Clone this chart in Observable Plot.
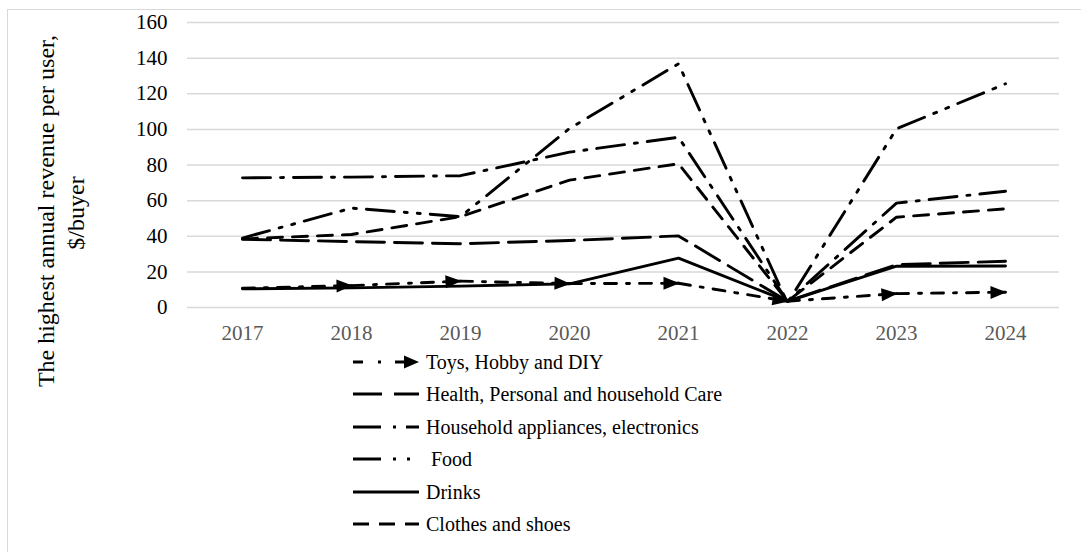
<!DOCTYPE html>
<html><head><meta charset="utf-8">
<script src="https://cdn.jsdelivr.net/npm/d3@7"></script>
<script src="https://cdn.jsdelivr.net/npm/@observablehq/plot@0.6"></script>
<style>
html,body{margin:0;padding:0;background:#fff;}
#wrap{position:relative;width:1081px;height:552px;overflow:hidden;font-family:"Liberation Serif","Times New Roman",serif;}
#frame{position:absolute;left:7px;top:9px;width:1100px;height:600px;border-left:1px solid #d9d9d9;border-top:1px solid #d9d9d9;}
#chart{position:absolute;left:0;top:0;}
#chart svg, #chart svg text{font-family:"Liberation Serif","Times New Roman",serif !important;}
#ytitle{position:absolute;left:0;top:0;}
#legend{position:absolute;left:353px;top:0;}
.row{position:absolute;left:0;height:24px;display:flex;align-items:center;white-space:pre;font-size:20px;line-height:24px;color:#000;}
.row svg{margin-right:7px;flex:none;}
</style></head>
<body>
<div id="wrap"><div id="frame"></div><div id="chart"></div><svg id="ytitle" width="120" height="552"></svg><div id="legend"></div></div>
<script>
// ---- data ----
const years = ["2017","2018","2019","2020","2021","2022","2023","2024"];
const seriesNames = ["Toys, Hobby and DIY","Health, Personal and household Care","Household appliances, electronics"," Food","Drinks","Clothes and shoes"];
const toys       = [10.8, 12.3, 14.8, 13.4, 13.6, 3.5, 7.8, 8.6];
const health     = [38.3, 37.0, 35.8, 37.6, 40.2, 3.5, 24.0, 26.0];
const appliances = [72.8, 73.2, 74.0, 87.2, 95.6, 3.5, 58.6, 65.3];
const food       = [39.0, 55.8, 51.0, 100.5, 136.8, 2.5, 100.3, 125.6];
const drinks     = [10.5, 11.0, 12.0, 13.3, 27.7, 3.5, 23.2, 23.3];
const clothes    = [38.5, 41.0, 51.0, 71.5, 80.7, 3.5, 50.7, 55.4];
const yTicks = [0,20,40,60,80,100,120,140,160];
const yTitle1 = "The highest annual revenue per user,";
const yTitle2 = "$/buyer";

const seriesValues = [toys, health, appliances, food, drinks, clothes];
const dashes = ["12,10,3,10","28,10","28,10,3,10","28,10,3,10,3,10",null,"15,10"];
const legendDashes = ["10,15,3,14","29,12","28,12,3,10","28,12,3,11,3,11",null,"16,10"];
const serif = "'Liberation Serif','Times New Roman',serif";

// ---- build tables ----
const lineMarks = [];
seriesValues.forEach((vals, s) => {
  if (s === 0) {
    const segs = [];
    for (let i = 0; i < years.length - 1; i++) {
      segs.push({seg: i, year: years[i], value: vals[i]});
      segs.push({seg: i, year: years[i+1], value: vals[i+1]});
    }
    lineMarks.push(Plot.line(segs, {x: "year", y: "value", z: "seg", stroke: "#000", strokeWidth: 2.9,
      strokeDasharray: dashes[s], strokeLinejoin: "round", markerEnd: "arrow"}));
  } else {
    const rows = years.map((y, i) => ({year: y, value: vals[i]}));
    lineMarks.push(Plot.line(rows, {x: "year", y: "value", stroke: "#000", strokeWidth: 2.9,
      strokeDasharray: dashes[s] || undefined, strokeLinejoin: "round"}));
  }
});

const plot = Plot.plot({
  width: 1081, height: 352,
  marginTop: 22, marginBottom: 45, marginLeft: 187, marginRight: 22,
  style: {fontFamily: serif, fontSize: "21px", background: "transparent", overflow: "visible"},
  x: {type: "point", domain: years, padding: 0.5, label: null},
  y: {domain: [0, 160], label: null},
  marks: [
    Plot.gridY(yTicks, {stroke: "#d9d9d9", strokeOpacity: 1, strokeWidth: 1.5}),
    Plot.axisY(yTicks, {tickSize: 0, tickPadding: 20, fontSize: 21, fontFamily: serif, color: "#000", label: null}),
    Plot.axisX({tickSize: 0, tickPadding: 18, fontSize: 21, fontFamily: serif, color: "#595959", label: null}),
    ...lineMarks
  ]
});

// filled arrowheads
d3.select(plot).selectAll("marker").each(function() {
  const m = d3.select(this);
  m.attr("viewBox", "-18 -9 20 18").attr("markerWidth", 20).attr("markerHeight", 18)
   .attr("markerUnits", "userSpaceOnUse").attr("orient", "auto")
   .attr("fill", "#000").attr("stroke", "none").style("stroke-dasharray", "none");
  m.selectAll("*").remove();
  m.append("path").attr("d", "M-15,-6.5L1,0L-15,6.5Z").attr("fill", "#000").attr("stroke", "none").style("stroke-dasharray", "none");
});
document.getElementById("chart").appendChild(plot);

// y title
const yt = d3.select("#ytitle");
yt.append("text").attr("transform", "translate(54,211) rotate(-90)").attr("text-anchor", "middle")
  .attr("font-family", serif).attr("font-size", 24).attr("fill", "#000").text(yTitle1);
yt.append("text").attr("transform", "translate(84,213) rotate(-90)").attr("text-anchor", "middle")
  .attr("font-family", serif).attr("font-size", 24).attr("fill", "#000").text(yTitle2);

// legend
const legend = d3.select("#legend");
seriesNames.forEach((name, i) => {
  const row = legend.append("div").attr("class", "row").style("top", (349.5 + i * 32.5) + "px");
  const svg = row.append("svg").attr("width", 66).attr("height", 24);
  if (i === 0) {
    svg.append("line").attr("x1", 0).attr("x2", 53).attr("y1", 12).attr("y2", 12)
      .attr("stroke", "#000").attr("stroke-width", 3.2).attr("stroke-dasharray", legendDashes[i]);
    svg.append("path").attr("d", "M51,5.5L66,12L51,18.5Z").attr("fill", "#000");
  } else {
    svg.append("line").attr("x1", 0).attr("x2", 66).attr("y1", 12).attr("y2", 12)
      .attr("stroke", "#000").attr("stroke-width", 3.2).attr("stroke-dasharray", legendDashes[i]);
  }
  row.append("span").text(name);
});
</script>
</body></html>
